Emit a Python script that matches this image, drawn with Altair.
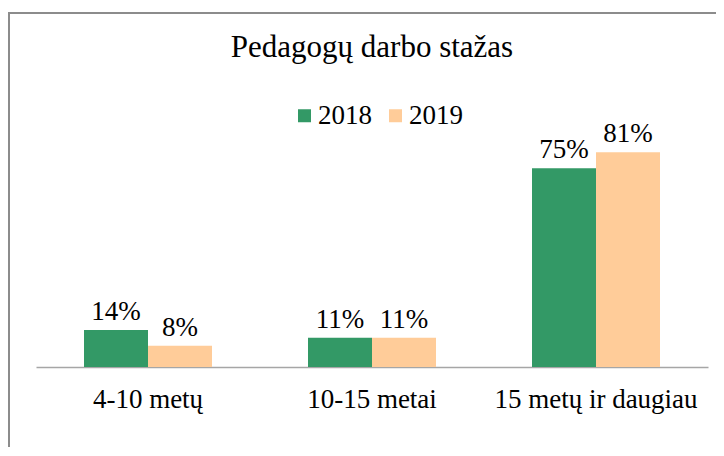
import altair as alt
import pandas as pd

categories = ["4-10 metų", "10-15 metai", "15 metų ir daugiau"]
years = ["2018", "2019"]
values_2018 = [14, 11, 75]
values_2019 = [8, 11, 81]
colors = ["#339966", "#FFCC99"]

rows = []
for i, c in enumerate(categories):
    rows.append({"cat": c, "year": "2018", "v": values_2018[i], "lab": f"{values_2018[i]}%"})
    rows.append({"cat": c, "year": "2019", "v": values_2019[i], "lab": f"{values_2019[i]}%"})
df = pd.DataFrame(rows)

FONT = "Liberation Serif"

x = alt.X("cat:N", sort=categories,
          scale=alt.Scale(paddingInner=0.4286, paddingOuter=0.2143),
          axis=alt.Axis(title=None, labelFont=FONT, labelFontSize=27, labelColor="#000000",
                        labelAngle=0, ticks=False, tickSize=0, domainColor="#a6a6a6",
                        domainWidth=1.5, labelBaseline="alphabetic", labelPadding=40,
                        labelLimit=400, grid=False))
y = alt.Y("v:Q", scale=alt.Scale(domain=[0, 100], nice=False), axis=None)
xo = alt.XOffset("year:N", sort=years)

bars = alt.Chart(df).mark_bar(size=64).encode(
    x=x, y=y, xOffset=xo,
    color=alt.Color("year:N", sort=years,
                    scale=alt.Scale(domain=years, range=colors),
                    legend=alt.Legend(title=None, orient="none", direction="horizontal",
                                      legendX=255, legendY=0, padding=0, symbolType="square",
                                      symbolSize=169, symbolStrokeWidth=0, labelFont=FONT,
                                      labelFontSize=27, labelColor="#000000", labelOffset=0,
                                      columnPadding=10, symbolOpacity=1)),
)

labels = alt.Chart(df).mark_text(font=FONT, fontSize=27, color="#000000",
                                 baseline="alphabetic", dy=-10).encode(
    x=x, y=y, xOffset=xo, text="lab:N"
)

frame_left = alt.Chart(df).mark_rule(color="#8c8c8c", strokeWidth=2).encode(
    x=alt.value(-27), y=alt.value(-89), y2=alt.value(360)
)
frame_top = alt.Chart(df).mark_rule(color="#8c8c8c", strokeWidth=2).encode(
    x=alt.value(-28), x2=alt.value(700), y=alt.value(-89)
)

chart = alt.layer(frame_left, frame_top, bars, labels).properties(
    width=672, height=265,
    autosize=alt.AutoSizeParams(type="none"),
    padding={"left": 28, "top": 94, "right": 8, "bottom": 80},
    title=alt.TitleParams("Pedagogų darbo stažas", font=FONT, fontSize=31, fontWeight="normal",
                          color="#000000", anchor="middle", baseline="alphabetic",
                          offset=0, dy=76),
).configure_view(stroke=None)

chart.save("out.html", embed_options={"renderer": "svg", "actions": False})
